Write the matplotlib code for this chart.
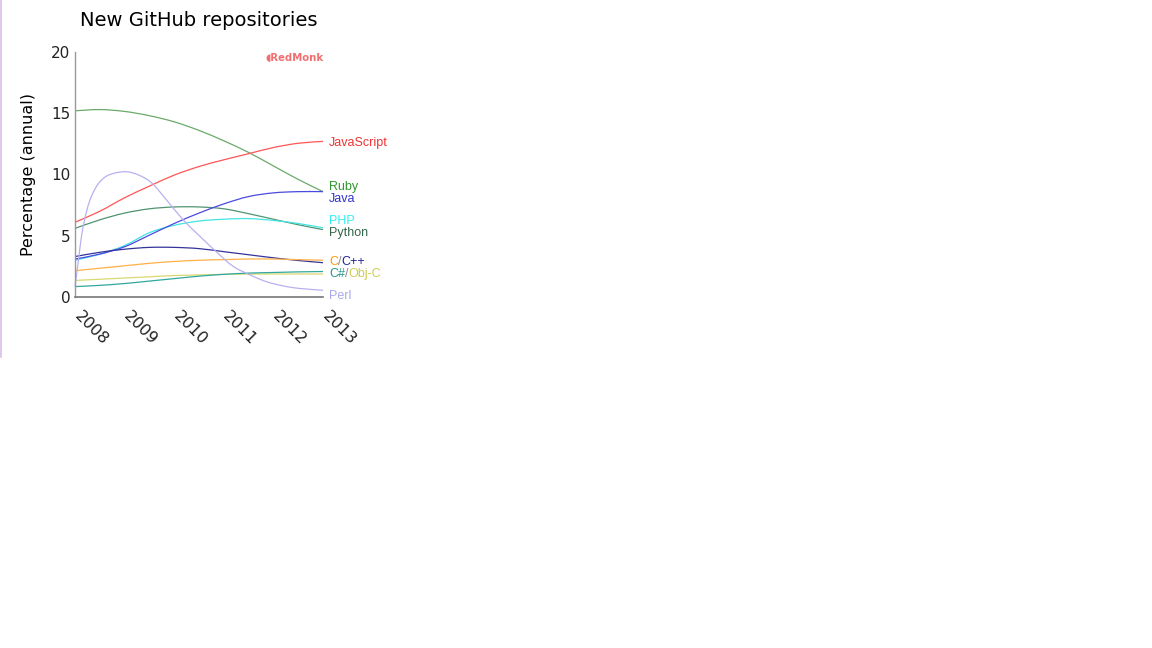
import matplotlib
matplotlib.use("Agg")
import matplotlib.pyplot as plt
import matplotlib.transforms as mtransforms
from matplotlib.path import Path
from matplotlib.patches import PathPatch

# values every half year
years = [2008, 2008.5, 2009, 2009.5, 2010, 2010.5, 2011, 2011.5, 2012, 2012.5, 2013]
ruby = [15.2, 15.3, 15.15, 14.8, 14.3, 13.6, 12.75, 11.8, 10.7, 9.6, 8.6]
javascript = [6.1, 7.0, 8.1, 9.05, 9.95, 10.65, 11.2, 11.7, 12.2, 12.55, 12.7]
java = [3.1, 3.5, 4.1, 5.05, 6.0, 6.85, 7.6, 8.2, 8.5, 8.6, 8.6]
php = [3.0, 3.5, 4.2, 5.25, 5.85, 6.2, 6.35, 6.4, 6.25, 6.0, 5.65]
python = [5.6, 6.3, 6.85, 7.2, 7.35, 7.35, 7.2, 6.8, 6.35, 5.9, 5.5]
c_lang = [2.15, 2.35, 2.55, 2.75, 2.9, 3.0, 3.05, 3.1, 3.1, 3.05, 3.0]
cpp = [3.3, 3.65, 3.9, 4.05, 4.05, 3.95, 3.7, 3.45, 3.2, 2.98, 2.8]
csharp = [0.85, 0.95, 1.1, 1.3, 1.5, 1.7, 1.85, 1.95, 2.0, 2.05, 2.08]
objc = [1.35, 1.45, 1.55, 1.65, 1.75, 1.8, 1.85, 1.87, 1.88, 1.88, 1.88]

# perl peaks sharply so it gets its own, denser readings
perl_years = [2008, 2008.07, 2008.14, 2008.24, 2008.34, 2008.48, 2008.68, 2009.01,
              2009.28, 2009.55, 2009.85, 2010.18, 2010.52, 2010.86, 2011.19,
              2011.53, 2011.86, 2012.2, 2012.53, 2013]
perl = [0.85, 3.0, 5.2, 7.1, 8.3, 9.3, 9.96, 10.23,
        9.96, 9.3, 7.9, 6.3, 4.95, 3.65, 2.5,
        1.8, 1.25, 0.9, 0.7, 0.55]

xticks = [2008, 2009, 2010, 2011, 2012, 2013]
yticks = [0, 5, 10, 15, 20]

series = [
    (years, ruby, "#6aaa6a"),
    (years, javascript, "#ff5555"),
    (years, python, "#4f9470"),
    (years, php, "#44e4e4"),
    (years, java, "#4a4ae0"),
    (years, cpp, "#33339a"),
    (years, c_lang, "#ffb048"),
    (years, objc, "#d8d870"),
    (years, csharp, "#30a8a0"),
    (perl_years, perl, "#b8b0f0"),
]


def smooth_path(xs, ys):
    # catmull-rom through the read points, drawn as bezier segments
    pts = list(zip(xs, ys))
    verts = [pts[0]]
    codes = [Path.MOVETO]
    n = len(pts)
    for i in range(n - 1):
        p0 = pts[max(i - 1, 0)]
        p1 = pts[i]
        p2 = pts[i + 1]
        p3 = pts[min(i + 2, n - 1)]
        c1 = (p1[0] + (p2[0] - p0[0]) / 6, p1[1] + (p2[1] - p0[1]) / 6)
        c2 = (p2[0] - (p3[0] - p1[0]) / 6, p2[1] - (p3[1] - p1[1]) / 6)
        verts += [c1, c2, p2]
        codes += [Path.CURVE4] * 3
    return Path(verts, codes)


fig = plt.figure(figsize=(11.52, 6.48), dpi=100)
ax = fig.add_axes([75 / 1152, 1 - 297 / 648, 248 / 1152, 245 / 648])

for xs, vals, col in series:
    ax.add_patch(PathPatch(smooth_path(xs, vals), facecolor="none",
                           edgecolor=col, lw=0.9, clip_on=False))

ax.set_xlim(2008, 2013)
ax.set_ylim(0, 20)
ax.set_xticks(xticks)
ax.set_yticks(yticks)
ax.set_xticklabels([str(x) for x in xticks], rotation=-45, ha="left", va="top",
                   rotation_mode="anchor", fontsize=11.5)
ax.tick_params(axis="both", length=0, colors="#222222")
ax.tick_params(axis="y", pad=3.5, labelsize=11)
ax.tick_params(axis="x", pad=8)
shift = mtransforms.ScaledTranslation(7 / 100, 0, fig.dpi_scale_trans)
for t in ax.get_xticklabels():
    t.set_transform(t.get_transform() + shift)
for s in ["top", "right"]:
    ax.spines[s].set_visible(False)
ax.spines["left"].set_color("#999999")
ax.spines["bottom"].set_color("#777777")
ax.spines["left"].set_linewidth(1)
ax.spines["bottom"].set_linewidth(1.2)

ax.set_ylabel("Percentage (annual)", fontsize=11.5, labelpad=11)
ax.set_title("New GitHub repositories", fontsize=14, pad=19)

lab = dict(fontsize=9, family="Liberation Sans", va="center")


def end_label(parts, y):
    prev = ax.annotate(parts[0][0], xy=(2013, y), xytext=(4.5, 0),
                       textcoords="offset points", color=parts[0][1], **lab)
    for txt, col in parts[1:]:
        prev = ax.annotate(txt, xy=(1, 0.5), xycoords=prev, color=col,
                           ha="left", va="center", fontsize=9, family="Liberation Sans")


end_label([("JavaScript", "#ee3333")], 12.6)
end_label([("Ruby", "#2f962f")], 8.95)
end_label([("Java", "#3333cc")], 7.97)
end_label([("PHP", "#33eeee")], 6.17)
end_label([("Python", "#33664a")], 5.19)
end_label([("C", "#ff9911"), ("/", "#888888"), ("C++", "#222299")], 2.83)
end_label([("C#", "#229988"), ("/", "#888888"), ("Obj-C", "#cccc55")], 1.85)
end_label([("Perl", "#aaaaee")], 0.12)

fig.text(265 / 1152, 1 - 57.5 / 648, "\u25d6RedMonk", color="#f07070", fontsize=7.3,
         fontweight="bold", va="center", ha="left")

# thin border at left edge of the embedded picture
fig.add_artist(plt.Line2D([0.8 / 1152, 0.8 / 1152], [1, 1 - 357 / 648],
                          color="#d9bfe6", lw=1.2))

fig.savefig("out.png", dpi=100)
